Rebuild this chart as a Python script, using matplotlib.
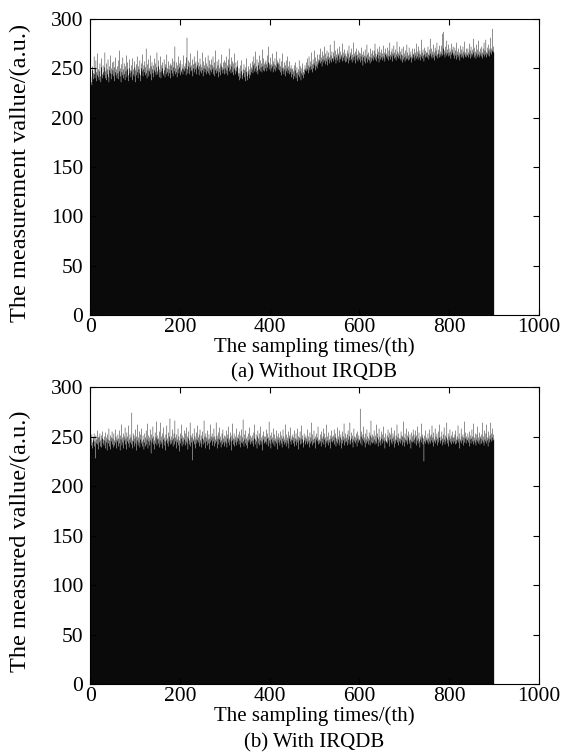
import numpy as np
import matplotlib
matplotlib.use("Agg")
import matplotlib.pyplot as plt

plt.rcParams['font.family'] = ['Liberation Serif', 'DejaVu Serif']
plt.rcParams['font.size'] = 15

without_irqdb = [
    255, 241, 236, 233, 248, 252, 239, 245, 262, 244, 240, 250, 258, 237, 246, 243, 265, 241, 249, 238, 247, 255, 242, 236, 251, 260, 244, 240, 253, 246,
    243, 251, 266, 240, 247, 238, 255, 249, 244, 259, 241, 236, 252, 248, 245, 263, 239, 250, 244, 256, 248, 242, 257, 237, 251, 246, 261, 243, 249, 240,
    252, 245, 239, 258, 247, 268, 242, 250, 236, 254, 246, 243, 261, 249, 240, 255, 244, 238, 252, 247, 263, 241, 249, 256, 243, 237, 250, 259, 245, 248,
    241, 253, 247, 238, 260, 244, 249, 242, 257, 251, 236, 248, 254, 243, 262, 246, 240, 252, 249, 245, 258, 243, 237, 250, 255, 247, 264, 242, 249, 253,
    246, 257, 243, 251, 270, 245, 240, 254, 248, 259, 242, 250, 247, 263, 244, 252, 238, 256, 249, 245, 253, 241, 260, 248, 246, 255, 243, 251, 266, 247,
    244, 252, 258, 241, 249, 246, 262, 240, 253, 247, 250, 256, 243, 245, 259, 248, 241, 254, 251, 244, 264, 246, 250, 242, 257, 249, 245, 253, 240, 255,
    248, 253, 245, 260, 242, 251, 257, 247, 272, 244, 250, 246, 256, 241, 253, 249, 262, 245, 251, 255, 243, 258, 248, 246, 254, 250, 244, 263, 249, 252,
    247, 255, 250, 243, 261, 281, 249, 245, 258, 252, 256, 244, 251, 265, 247, 253, 248, 259, 242, 254, 250, 262, 246, 255, 249, 257, 244, 251, 268, 253,
    249, 256, 243, 252, 260, 247, 254, 245, 251, 266, 248, 242, 257, 250, 253, 246, 261, 249, 244, 255, 252, 247, 263, 245, 250, 258, 243, 254, 248, 259,
    246, 253, 249, 262, 244, 251, 256, 242, 268, 248, 250, 245, 257, 247, 253, 241, 259, 250, 246, 255, 243, 252, 264, 248, 251, 245, 256, 249, 244, 258,
    250, 256, 245, 262, 248, 253, 243, 259, 251, 270, 247, 254, 249, 245, 261, 252, 246, 257, 243, 255, 250, 265, 248, 244, 256, 251, 247, 258, 252, 245,
    242, 250, 238, 245, 253, 240, 247, 258, 243, 239, 249, 245, 254, 241, 248, 237, 251, 246, 260, 242, 238, 247, 252, 244, 240, 249, 255, 243, 246, 251,
    249, 257, 245, 253, 262, 247, 255, 250, 267, 246, 252, 259, 248, 244, 256, 253, 263, 249, 247, 258, 251, 255, 246, 269, 252, 248, 260, 254, 247, 256,
    250, 258, 254, 247, 263, 251, 256, 272, 249, 255, 253, 261, 247, 254, 250, 265, 252, 246, 257, 254, 249, 260, 253, 247, 267, 251, 255, 258, 249, 256,
    254, 248, 260, 246, 252, 257, 243, 250, 265, 247, 251, 244, 256, 249, 253, 242, 258, 247, 250, 262, 245, 252, 248, 244, 257, 250, 246, 253, 241, 249,
    244, 250, 239, 247, 253, 242, 248, 256, 240, 245, 251, 237, 246, 249, 243, 258, 241, 247, 252, 238, 245, 250, 243, 255, 246, 240, 249, 244, 253, 248,
    250, 256, 247, 260, 249, 253, 245, 262, 251, 248, 257, 252, 266, 249, 254, 246, 259, 250, 255, 268, 253, 248, 261, 252, 257, 250, 264, 254, 259, 256,
    258, 264, 255, 270, 257, 261, 252, 267, 259, 263, 256, 272, 258, 254, 265, 260, 257, 268, 253, 262, 259, 266, 255, 261, 274, 258, 263, 256, 267, 260,
    260, 266, 257, 278, 262, 259, 268, 255, 264, 261, 270, 258, 265, 263, 256, 272, 260, 267, 259, 264, 262, 275, 257, 266, 261, 258, 269, 263, 256, 265,
    262, 257, 268, 260, 265, 255, 273, 261, 258, 266, 263, 259, 270, 256, 264, 261, 276, 258, 265, 262, 267, 255, 263, 270, 259, 264, 257, 268, 261, 266,
    259, 265, 256, 262, 271, 258, 264, 253, 267, 261, 257, 263, 269, 255, 262, 260, 274, 256, 264, 259, 266, 258, 262, 255, 270, 261, 257, 265, 260, 268,
    263, 258, 268, 261, 275, 259, 265, 262, 257, 270, 264, 260, 267, 256, 272, 263, 259, 266, 261, 269, 258, 265, 262, 273, 260, 266, 257, 264, 270, 262,
    265, 260, 271, 263, 258, 268, 262, 276, 264, 259, 267, 262, 270, 257, 265, 263, 273, 260, 266, 261, 269, 258, 264, 277, 262, 267, 260, 265, 272, 263,
    260, 267, 258, 264, 270, 256, 263, 259, 272, 261, 265, 257, 268, 262, 259, 274, 260, 266, 258, 263, 271, 259, 264, 261, 267, 256, 262, 270, 260, 265,
    264, 261, 270, 258, 266, 263, 275, 260, 267, 262, 259, 272, 265, 261, 268, 258, 264, 279, 262, 266, 260, 269, 263, 257, 271, 264, 261, 268, 262, 266,
    266, 261, 272, 264, 259, 269, 263, 280, 265, 262, 270, 260, 267, 264, 274, 261, 266, 258, 271, 263, 268, 262, 276, 264, 260, 269, 265, 261, 273, 264,
    267, 262, 273, 265, 285, 263, 270, 287, 264, 268, 261, 272, 266, 263, 278, 265, 269, 262, 274, 266, 263, 270, 267, 260, 275, 264, 269, 266, 272, 263,
    265, 260, 271, 263, 268, 259, 276, 264, 267, 261, 270, 263, 266, 258, 273, 264, 261, 269, 265, 262, 272, 260, 267, 264, 277, 262, 266, 261, 270, 264,
    263, 270, 266, 261, 275, 264, 268, 260, 272, 265, 262, 269, 264, 280, 266, 261, 271, 263, 267, 260, 274, 265, 262, 269, 264, 278, 261, 267, 263, 270,
    265, 262, 272, 266, 260, 270, 264, 276, 262, 268, 264, 279, 266, 261, 271, 265, 263, 274, 268, 262, 270, 266, 281, 264, 270, 268, 290, 267, 272, 266,
]

with_irqdb = [
    250, 247, 241, 252, 244, 238, 249, 246, 253, 240, 245, 228, 251, 243, 247, 256, 242, 249, 237, 250, 244, 253, 240, 246, 251, 239, 248, 255, 243, 247,
    241, 250, 246, 238, 254, 244, 249, 236, 252, 247, 243, 258, 240, 246, 251, 237, 249, 245, 255, 242, 248, 239, 253, 246, 241, 257, 244, 250, 238, 247,
    245, 252, 240, 248, 256, 243, 236, 251, 247, 262, 241, 249, 244, 253, 238, 250, 246, 259, 242, 248, 237, 254, 245, 250, 243, 261, 239, 247, 252, 244,
    249, 242, 274, 246, 238, 253, 245, 251, 240, 248, 257, 243, 236, 250, 246, 262, 241, 249, 244, 255, 239, 247, 252, 243, 258, 245, 240, 251, 247, 237,
    244, 253, 240, 249, 256, 242, 247, 263, 238, 251, 245, 249, 241, 257, 246, 233, 252, 244, 248, 260, 242, 250, 237, 246, 254, 243, 249, 265, 241, 247,
    251, 243, 248, 239, 255, 246, 264, 242, 250, 244, 238, 253, 247, 259, 241, 249, 245, 236, 252, 246, 261, 243, 248, 240, 254, 245, 250, 268, 242, 247,
    243, 250, 246, 257, 240, 248, 253, 242, 266, 245, 249, 238, 252, 247, 244, 258, 241, 250, 235, 246, 253, 243, 248, 262, 240, 251, 245, 249, 242, 256,
    247, 241, 253, 245, 259, 243, 250, 237, 248, 255, 242, 246, 264, 240, 251, 244, 249, 226, 253, 247, 245, 258, 242, 250, 238, 247, 254, 243, 261, 246,
    249, 244, 252, 240, 257, 246, 243, 251, 239, 248, 255, 242, 247, 266, 244, 250, 238, 253, 245, 249, 241, 256, 247, 243, 252, 237, 248, 262, 244, 250,
    246, 253, 241, 249, 245, 258, 240, 250, 247, 243, 264, 245, 251, 238, 248, 254, 242, 247, 259, 244, 250, 239, 246, 253, 242, 257, 248, 244, 251, 240,
    245, 250, 243, 256, 239, 248, 252, 244, 260, 247, 241, 249, 254, 245, 236, 251, 246, 263, 242, 248, 253, 240, 247, 250, 244, 258, 241, 249, 245, 252,
    248, 242, 255, 246, 239, 251, 244, 257, 243, 249, 267, 245, 240, 252, 247, 243, 256, 241, 248, 250, 238, 246, 253, 244, 259, 247, 242, 251, 245, 249,
    243, 251, 246, 240, 254, 248, 262, 242, 247, 252, 245, 238, 250, 256, 243, 248, 241, 253, 246, 260, 242, 249, 245, 236, 251, 247, 255, 243, 250, 244,
    250, 245, 257, 242, 248, 253, 240, 249, 265, 246, 243, 251, 238, 247, 254, 244, 249, 242, 258, 246, 252, 240, 248, 245, 256, 243, 250, 237, 247, 253,
    244, 249, 241, 255, 246, 243, 251, 239, 248, 257, 245, 250, 242, 247, 262, 244, 240, 252, 246, 249, 243, 255, 238, 248, 251, 245, 259, 242, 247, 250,
    246, 252, 243, 249, 240, 256, 245, 248, 253, 241, 247, 258, 244, 250, 237, 249, 246, 255, 242, 248, 261, 243, 247, 251, 244, 239, 253, 246, 249, 242,
    251, 245, 248, 242, 257, 244, 250, 246, 239, 254, 243, 249, 264, 245, 241, 252, 247, 243, 256, 248, 244, 250, 238, 247, 253, 245, 249, 260, 242, 246,
    247, 243, 252, 245, 240, 255, 248, 244, 250, 258, 242, 247, 253, 239, 249, 245, 262, 243, 250, 246, 241, 254, 247, 244, 251, 238, 248, 256, 245, 250,
    244, 251, 246, 257, 242, 249, 253, 240, 248, 245, 259, 243, 250, 247, 241, 256, 244, 249, 252, 238, 247, 255, 243, 250, 246, 263, 241, 248, 253, 244,
    249, 245, 252, 241, 256, 247, 243, 250, 264, 246, 242, 248, 254, 244, 251, 239, 247, 258, 245, 250, 243, 249, 246, 253, 240, 255, 248, 244, 251, 247,
    246, 278, 243, 250, 255, 241, 248, 252, 246, 260, 244, 249, 239, 253, 247, 243, 257, 245, 250, 242, 248, 254, 246, 241, 251, 266, 244, 249, 243, 252,
    250, 244, 256, 247, 242, 251, 245, 262, 243, 249, 253, 240, 247, 258, 244, 250, 246, 241, 255, 248, 243, 252, 247, 260, 245, 249, 238, 253, 246, 244,
    245, 251, 243, 257, 249, 246, 240, 254, 247, 252, 244, 259, 242, 248, 253, 245, 250, 239, 256, 247, 243, 251, 246, 262, 244, 249, 241, 253, 248, 245,
    248, 243, 255, 246, 251, 241, 250, 265, 244, 249, 240, 253, 247, 244, 258, 246, 251, 242, 249, 255, 246, 243, 252, 247, 238, 254, 245, 250, 244, 257,
    245, 252, 247, 243, 256, 249, 241, 251, 246, 260, 243, 248, 254, 245, 239, 250, 247, 263, 244, 249, 252, 242, 248, 225, 251, 245, 256, 243, 249, 246,
    247, 244, 253, 248, 242, 257, 245, 250, 243, 252, 246, 261, 244, 249, 240, 254, 247, 245, 258, 243, 250, 246, 253, 241, 248, 255, 244, 249, 262, 246,
    243, 250, 246, 255, 241, 248, 252, 244, 259, 247, 242, 251, 245, 249, 264, 243, 247, 253, 240, 250, 246, 257, 244, 248, 251, 242, 255, 245, 249, 243,
    249, 245, 252, 242, 256, 247, 243, 250, 246, 261, 244, 248, 238, 253, 247, 245, 258, 243, 250, 246, 252, 241, 249, 265, 244, 248, 254, 243, 250, 247,
    246, 253, 244, 249, 240, 255, 247, 251, 243, 248, 257, 245, 250, 242, 263, 246, 249, 244, 253, 241, 247, 252, 245, 260, 243, 249, 246, 254, 242, 250,
    248, 243, 252, 246, 264, 244, 250, 241, 256, 247, 245, 253, 262, 243, 249, 246, 240, 255, 248, 244, 251, 247, 264, 245, 253, 249, 258, 246, 252, 247,
]

panels = [
    (without_irqdb, 'The measurement vallue/(a.u.)', '(a) Without IRQDB'),
    (with_irqdb, 'The measured vallue/(a.u.)', '(b) With IRQDB'),
]

fig = plt.figure(figsize=(5.63, 7.53), dpi=100)
boxes = [[0.160, 0.5817, 0.797, 0.393], [0.160, 0.0916, 0.797, 0.3944]]

for box, (vals, ylab, caption) in zip(boxes, panels):
    ax = fig.add_axes(box)
    vals = np.asarray(vals)
    edges = np.arange(len(vals) + 1) + 0.5
    ax.stairs(vals, edges, fill=True, baseline=0, color='#0a0a0a')
    ax.set_xlim(0, 1000)
    ax.set_ylim(0, 300)
    ax.set_xticks(np.arange(0, 1001, 200))
    ax.set_yticks(np.arange(0, 301, 50))
    ax.tick_params(direction='in', top=True, right=True, length=4, width=0.8,
                   labelsize=15.5)
    ax.tick_params(axis='x', pad=2)
    ax.tick_params(axis='y', pad=5)
    for s in ax.spines.values():
        s.set_linewidth(0.8)
    ax.set_xlabel('The sampling times/(th)', va='baseline')
    ax.xaxis.set_label_coords(0.5, -0.126)
    ax.set_ylabel(ylab, fontsize=17.5, va='center')
    ax.yaxis.set_label_coords(-0.156, 0.48)
    ax.text(0.5, -0.212, caption, transform=ax.transAxes, ha='center', va='baseline')

fig.savefig('out.png', dpi=100)
